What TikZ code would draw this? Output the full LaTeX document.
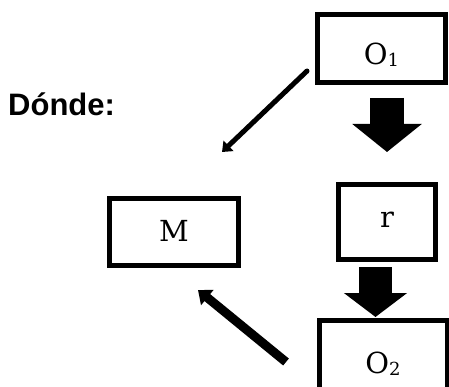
\documentclass[tikz,border=0pt]{standalone}
\usepackage{fontspec}
\newfontfamily\headfont{Liberation Sans}
\newfontfamily\boxfont{DejaVu Serif}
\usetikzlibrary{arrows.meta}

% lowered, smaller index after a letter
\newcommand\lowsub[1]{\raisebox{-2pt}{\fontsize{18}{18}\selectfont #1}}

\tikzset{
  box/.style={draw, line width=5pt, inner sep=0pt, text depth=0pt,
    font=\boxfont\fontsize{29}{34}\selectfont},
  blockarrow/.style args={#1/#2/#3}{line width=#1,
    -{Triangle[width=#2,length=#3]}},
  thinarrow/.style={line width=5pt, line cap=round,
    -{Triangle[width=14pt,length=9pt]}},
  thickarrow/.style={line width=9pt, -{Triangle[width=19pt,length=12pt]}},
}

\begin{document}
\begin{tikzpicture}[x=1pt,y=-1pt]
  \clip (0,0) rectangle (449,387);

  % heading
  \node[anchor=base west, inner sep=0pt,
        font=\headfont\bfseries\fontsize{31}{36}\selectfont]
        (title) at (8,116) {Dónde:};

  % boxes
  \node[box, minimum width=128pt, minimum height=68pt, text height=33pt]
        (O1) at (381.5,48.5) {O\lowsub{1}};
  \node[box, minimum width=97pt, minimum height=75pt, text height=10pt]
        (r) at (387,222) {r};
  \node[box, minimum width=129pt, minimum height=67pt, text height=18pt]
        (M) at (174,232) {M};
  \node[box, minimum width=128pt, minimum height=72pt, text height=33pt]
        (O2) at (383,356.5) {O\lowsub{2}};

  % block arrows down the right column
  \draw[blockarrow={34pt/68pt/28pt}, shorten <=13pt, shorten >=30pt]
        (r.north |- O1.south) -- (r.north);
  \draw[blockarrow={33pt/62pt/24pt}, shorten <=5pt, shorten >=1pt]
        ([xshift=-11.5pt]r.south) -- ([xshift=-11.5pt]r.south |- O2.north);

  % diagonal arrows towards M
  \coordinate (p1) at (307,71);
  \coordinate (p2) at (222,152);
  \draw[thinarrow] (p1) -- (p2);

  \coordinate (q1) at (286,362);
  \coordinate (q2) at (198,290);
  \draw[thickarrow] (q1) -- (q2);
\end{tikzpicture}
\end{document}
